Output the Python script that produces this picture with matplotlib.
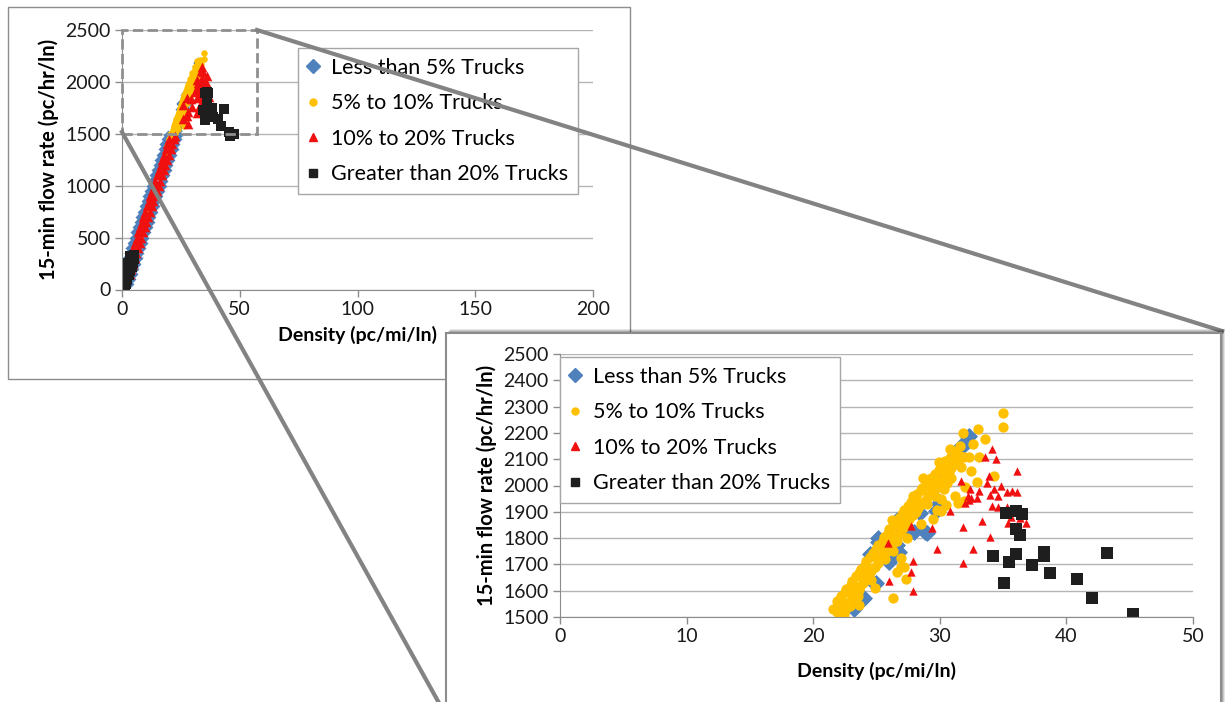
import matplotlib
matplotlib.use("Agg")
import matplotlib.pyplot as plt
from matplotlib.lines import Line2D
from matplotlib.patches import Rectangle
import numpy as np

plt.rcParams['font.family'] = ['Lato', 'DejaVu Sans']

# ---- data (density pc/mi/ln, flow pc/hr/ln) ----
labels = ["Less than 5% Trucks", "5% to 10% Trucks", "10% to 20% Trucks", "Greater than 20% Trucks"]

# lower part of the curve (only readable in the overview chart)
less5_lo = [(0.0, 10), (1.0, 25), (0.1, 50), (3.0, 50), (0.3, 100), (3.7, 100), (0.4, 150), (4.5, 150),
            (0.6, 200), (5.2, 200), (1.3, 250), (5.9, 250), (2.0, 300), (6.6, 300), (2.8, 350), (7.4, 350),
            (3.5, 400), (8.1, 400), (4.2, 450), (8.8, 450), (4.9, 500), (9.5, 500), (5.7, 550), (10.3, 550),
            (6.4, 600), (11.0, 600), (7.1, 650), (11.7, 650), (7.8, 700), (12.4, 700), (8.6, 750), (13.2, 750),
            (9.3, 800), (13.9, 800), (10.0, 850), (14.6, 850), (10.7, 900), (15.3, 900), (11.5, 950), (16.1, 950),
            (12.2, 1000), (16.8, 1000), (12.9, 1050), (17.5, 1050), (13.6, 1100), (18.2, 1100), (14.4, 1150),
            (19.0, 1150), (15.1, 1200), (19.7, 1200), (15.8, 1250), (20.4, 1250), (16.5, 1300), (21.1, 1300),
            (17.3, 1350), (21.9, 1350), (18.0, 1400), (22.6, 1400), (18.7, 1450), (23.3, 1450), (19.4, 1490),
            (23.9, 1490)]
t5_10_lo = [(2.1, 140), (6.9, 470), (7.6, 510), (7.2, 545), (8.1, 580), (11.2, 760), (15.9, 1090),
            (16.6, 1120), (17.9, 1260), (18.7, 1300), (19.4, 1330), (19.0, 1380), (20.3, 1410), (19.9, 1450),
            (20.8, 1470), (21.2, 1490), (20.5, 1495)]
t10_20_lo = [(1.2, 150), (3.2, 150), (1.9, 200), (3.9, 200), (2.6, 250), (4.6, 250), (3.4, 300), (5.4, 300),
             (4.1, 350), (6.1, 350), (4.8, 400), (6.8, 400), (5.5, 450), (7.5, 450), (6.2, 500), (8.2, 500),
             (7.0, 550), (9.0, 550), (7.7, 600), (9.7, 600), (8.4, 650), (10.4, 650), (9.1, 700), (11.1, 700),
             (9.9, 750), (11.9, 750), (10.6, 800), (12.6, 800), (11.3, 850), (13.3, 850), (12.0, 900), (14.0, 900),
             (12.8, 950), (14.8, 950), (13.5, 1000), (15.5, 1000), (14.2, 1050), (16.2, 1050), (14.9, 1100),
             (16.9, 1100), (15.7, 1150), (17.7, 1150), (16.4, 1200), (18.4, 1200), (17.1, 1250), (19.1, 1250),
             (17.8, 1300), (19.8, 1300), (18.6, 1350), (20.6, 1350), (19.3, 1400), (21.3, 1400), (20.0, 1450),
             (22.0, 1450), (22.6, 1480)]
gt20_lo = [(0.0, 15), (1.1, 15), (0.0, 55), (1.7, 55), (0.3, 95), (2.3, 95), (0.9, 135), (2.9, 135),
           (1.5, 175), (3.5, 175), (2.1, 215), (4.1, 215), (2.6, 255), (4.6, 255), (3.2, 295), (5.1, 295),
           (3.6, 325), (4.9, 330), (45.8, 1478), (47.6, 1497)]

# upper part (1500-2500, zoomed chart)
less5_hi = [(22.2, 1518), (22.4, 1527), (23.2, 1534), (23.2, 1529), (24.0, 1571), (23.9, 1567), (25.0, 1628),
            (24.9, 1625), (24.5, 1740), (25.1, 1784), (25.1, 1799), (25.9, 1712), (26.0, 1710), (25.8, 1743),
            (26.5, 1743), (26.6, 1774), (26.8, 1748), (26.0, 1809), (26.6, 1856), (26.6, 1869), (27.3, 1892),
            (27.7, 1828), (28.0, 1824), (28.4, 1895), (28.8, 1824), (29.0, 1818), (29.7, 1904), (29.9, 1914),
            (29.9, 1930), (30.0, 1938), (30.1, 2037), (31.7, 2151), (31.9, 2154), (32.3, 2189), (32.2, 2186)]
t5_10_hi = [(21.9, 1518), (22.4, 1512), (21.6, 1532), (22.5, 1528), (22.3, 1548), (22.9, 1541), (21.9, 1562),
            (22.8, 1557), (22.2, 1578), (23.1, 1572), (22.5, 1594), (23.3, 1586), (22.6, 1607), (23.6, 1601),
            (23.0, 1623), (23.7, 1617), (23.1, 1638), (23.9, 1631), (23.4, 1654), (24.2, 1646), (23.6, 1668),
            (24.4, 1662), (23.8, 1684), (24.6, 1676), (24.1, 1697), (24.9, 1692), (24.2, 1713), (25.1, 1706),
            (24.5, 1728), (25.3, 1721), (24.7, 1744), (25.6, 1736), (25.0, 1757), (25.8, 1752), (25.1, 1773),
            (26.0, 1766), (25.5, 1788), (26.3, 1781), (25.6, 1803), (26.5, 1797), (25.9, 1818), (26.7, 1811),
            (26.0, 1834), (26.9, 1826), (26.4, 1848), (27.2, 1841), (26.5, 1863), (27.4, 1856), (26.8, 1878),
            (27.6, 1871), (27.0, 1893), (27.9, 1886), (27.2, 1908), (28.1, 1901), (27.5, 1923), (28.3, 1916),
            (27.7, 1938), (28.6, 1931), (28.0, 1953), (28.9, 1946), (28.2, 1968), (29.1, 1961), (28.5, 1983),
            (29.4, 1976), (28.8, 1998), (29.7, 1991), (29.1, 2013), (30.0, 2006), (29.3, 2028), (30.2, 2021),
            (29.6, 2043), (30.5, 2036), (29.9, 2058), (30.7, 2051), (30.2, 2073), (30.9, 2066), (30.5, 2088),
            (31.2, 2081), (30.8, 2103), (31.4, 2096), (31.0, 2118), (31.6, 2112), (31.3, 2133), (31.6, 2152),
            (22.6, 1535), (23.0, 1590), (23.4, 1612), (24.0, 1655), (24.3, 1688), (24.8, 1735), (25.3, 1765),
            (25.9, 1790), (26.1, 1830), (26.7, 1852), (27.3, 1880), (27.7, 1905), (28.2, 1940), (28.6, 1990),
            (29.3, 2000), (29.7, 2020), (30.3, 1985), (30.6, 2010), (30.1, 1950), (29.6, 1960), (30.4, 2095),
            (35.0, 2277), (35.0, 2222), (33.0, 2213), (31.8, 2198), (33.6, 2176), (32.6, 2158), (32.3, 2107),
            (33.1, 2107), (32.5, 2056), (31.7, 2072), (34.3, 2037), (32.9, 2012), (32.0, 1993), (31.9, 1942),
            (31.2, 1959), (30.5, 1924), (30.1, 1904), (29.5, 1873), (28.5, 1854), (26.6, 1790), (26.3, 1752),
            (26.9, 1692), (27.3, 1645), (26.3, 1571), (26.9, 1724), (26.6, 1672), (27.2, 1691), (29.8, 1907),
            (31.4, 1932), (23.5, 1580), (24.6, 1640), (25.7, 1720), (26.2, 1870), (27.9, 1960), (28.7, 2030),
            (29.9, 2090), (30.8, 2140), (31.9, 2110), (30.9, 2030), (29.0, 1930), (27.4, 1800), (24.9, 1610),
            (23.6, 1545)]
t10_20_hi = [(34.1, 2139), (33.6, 2107), (34.4, 2099), (36.1, 2054), (31.7, 2016), (33.9, 2036), (33.7, 2010),
             (34.8, 1997), (32.4, 1985), (33.1, 1978), (34.0, 1965), (34.6, 1959), (35.3, 1975), (35.7, 1978),
             (36.1, 1977), (32.2, 1959), (32.5, 1951), (32.0, 1933), (34.1, 1923), (34.6, 1919), (35.3, 1917),
             (30.8, 1904), (35.6, 1879), (36.3, 1876), (35.4, 1859), (36.8, 1856), (33.3, 1866), (31.8, 1841),
             (34.0, 1803), (29.4, 1838), (27.7, 1845), (25.9, 1780), (29.8, 1759), (32.6, 1759), (31.8, 1704),
             (27.9, 1712), (27.7, 1672), (26.0, 1638), (27.9, 1598), (32.3, 1945), (32.9, 1951), (34.3, 1985)]
gt20_hi = [(35.2, 1895), (36.0, 1904), (36.5, 1890), (36.0, 1835), (36.3, 1813), (34.2, 1733), (35.5, 1709),
           (36.0, 1741), (37.3, 1699), (38.2, 1748), (38.2, 1731), (38.7, 1666), (35.1, 1631), (40.8, 1643),
           (42.0, 1571), (43.2, 1743), (45.3, 1513)]

series_all = [less5_lo + less5_hi, t5_10_lo + t5_10_hi, t10_20_lo + t10_20_hi, gt20_lo + gt20_hi]
series_hi = [less5_hi, t5_10_hi, t10_20_hi, gt20_hi]
colors = ['#4f81bd', '#ffc000', '#f01010', '#1e1e1e']
markers = ['D', 'o', '^', 's']
small_sizes = [26, 22, 48, 42]
big_sizes = [75, 55, 36, 75]

W, H = 1226, 702


def fx(x):
    return x / W


def fy(y):
    return 1 - y / H


def box(x0, y0, x1, y1):
    return [fx(x0), fy(y1), (x1 - x0) / W, (y1 - y0) / H]


def style(ax, xmax, xstep, ymin, ystep, xpad):
    ax.set_xlim(0, xmax)
    ax.set_ylim(ymin, 2500)
    ax.set_xticks(np.arange(0, xmax + 1, xstep))
    ax.set_yticks(np.arange(ymin, 2501, ystep))
    ax.yaxis.grid(True, color='#b4b4b4', lw=1)
    ax.set_axisbelow(True)
    for s in ['top', 'right']:
        ax.spines[s].set_visible(False)
    for s in ['left', 'bottom']:
        ax.spines[s].set_color('#8c8c8c')
    ax.tick_params(direction='out', length=5, width=1, color='#8c8c8c', labelsize=14,
                   labelcolor='#1a1a1a', pad=3)
    ax.set_xlabel('Density (pc/mi/ln)', fontsize=14, fontweight='bold', labelpad=xpad)
    ax.set_ylabel('15-min flow rate (pc/hr/ln)', fontsize=14.5, fontweight='bold', labelpad=5)


def draw(ax, data, sizes):
    for pts, c, m, s in zip(data, colors, markers, sizes):
        p = np.array(pts)
        ax.scatter(p[:, 0], p[:, 1], s=s, c=c, marker=m, linewidths=0)


def legend(ax, x0, y0):
    handles = [Line2D([], [], ls='none', marker=m, color=c, ms=ms)
               for m, c, ms in zip(markers, colors, [7.5, 5, 5.5, 6])]
    leg = ax.legend(handles, labels, loc='upper left', bbox_to_anchor=(fx(x0), fy(y0)),
                    bbox_transform=fig.transFigure, fancybox=False, edgecolor='#a6a6a6',
                    fontsize=15.5, labelspacing=0.72, handlelength=0.5, handletextpad=0.6,
                    borderpad=0.45, borderaxespad=0, framealpha=1)
    leg.get_frame().set_linewidth(1)


fig = plt.figure(figsize=(W / 100, H / 100), dpi=100)

# overview chart frame
fig.add_artist(Rectangle((fx(8), fy(379)), (630 - 8) / W, (379 - 7) / H, transform=fig.transFigure,
                         fill=False, ec='#8c8c8c', lw=1, zorder=0.5))

ax1 = fig.add_axes(box(122, 30, 593, 289.5), zorder=1)
style(ax1, 200, 50, 0, 500, 6)
draw(ax1, series_all, small_sizes)
legend(ax1, 298, 48)
ax1.add_patch(Rectangle((0, 1500), 57.5, 1000, fill=False, ec='#8f8f8f', lw=2, ls='--',
                        clip_on=False, zorder=5))

# zoom connector lines
fig.add_artist(Line2D([fx(257), fx(1222)], [fy(30), fy(331)], transform=fig.transFigure,
                      color='#838383', lw=3, zorder=3))
fig.add_artist(Line2D([fx(122), fx(444)], [fy(132), fy(712)], transform=fig.transFigure,
                      color='#838383', lw=3, zorder=3))

# zoomed chart box with a soft shadow
for i, a in enumerate([0.10, 0.12, 0.15, 0.2]):
    off = 4 - i
    fig.add_artist(Rectangle((fx(446 + off), fy(712)), (1221 - 446) / W, (712 - 333 + off) / H,
                             transform=fig.transFigure, fc='#000000', ec='none', alpha=a, zorder=3.9))
fig.add_artist(Rectangle((fx(446), fy(712)), (1221 - 446) / W, (712 - 333) / H, transform=fig.transFigure,
                         fc='white', ec='#8c8c8c', lw=1.5, zorder=4))

ax2 = fig.add_axes(box(560, 354, 1193, 617), zorder=5)
style(ax2, 50, 10, 1500, 100, 12)
draw(ax2, series_hi, big_sizes)
legend(ax2, 560, 357)

fig.savefig('out.png', dpi=100)
